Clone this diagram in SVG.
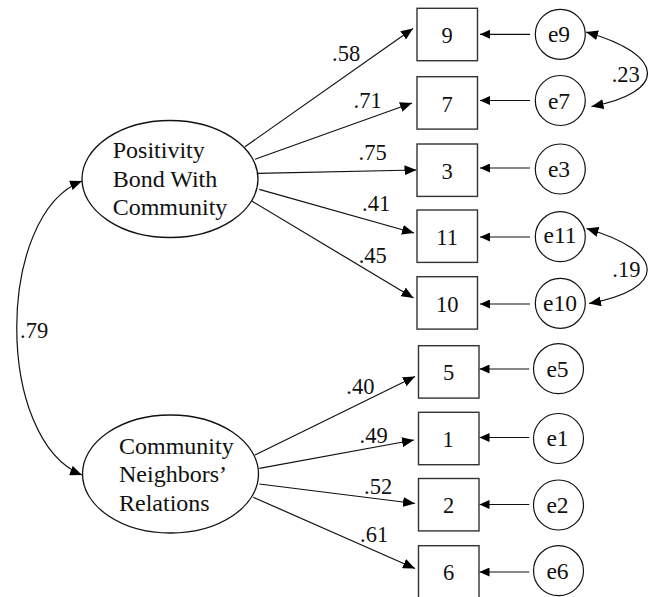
<svg xmlns="http://www.w3.org/2000/svg" width="651" height="597" viewBox="0 0 651 597">
<style>
  .box{fill:#fff;stroke:#333;stroke-width:1.4}
  .lat{fill:#fff;stroke:#111;stroke-width:1.3}
  .err{fill:#fff;stroke:#111;stroke-width:1.2}
  .t{font-family:"Liberation Serif","Times New Roman",serif;font-size:22.5px;fill:#111}
  .et{font-family:"Liberation Serif","Times New Roman",serif;font-size:23.5px;fill:#111}
  .lt{font-family:"Liberation Serif","Times New Roman",serif;font-size:24px;fill:#111}
  .mid{text-anchor:middle}
  .c{fill:none;stroke:#111;stroke-width:1.2}
</style>
<defs>
  <marker id="ah" markerUnits="userSpaceOnUse" markerWidth="12" markerHeight="10" refX="12" refY="5" orient="auto"><path d="M0,0 L12,5 L0,10 z" fill="#000"/></marker>
  <marker id="ahs" markerUnits="userSpaceOnUse" markerWidth="10" markerHeight="9" refX="10" refY="4.5" orient="auto"><path d="M0,0 L10,4.5 L0,9 z" fill="#000"/></marker>
  <marker id="ahc" markerUnits="userSpaceOnUse" markerWidth="12" markerHeight="10" refX="12" refY="5" orient="auto-start-reverse"><path d="M0,0 L12,5 L0,10 z" fill="#000"/></marker>
</defs>
<rect width="651" height="597" fill="#fff"/>

<g id="connectors">
  <path class="c" d="M82,181 C-5,215 -5,440 82,475" marker-start="url(#ahc)" marker-end="url(#ahc)"/>
  <path class="c" d="M586,32 C667,55 667,92 591.5,106.5" marker-start="url(#ahc)" marker-end="url(#ahc)"/>
  <path class="c" d="M586.5,228.5 C667,252 667,289 589,303.5" marker-start="url(#ahc)" marker-end="url(#ahc)"/>

  <line class="c" x1="245" y1="146.7" x2="413" y2="28.5" marker-end="url(#ah)"/>
  <line class="c" x1="255" y1="159.3" x2="412" y2="103" marker-end="url(#ah)"/>
  <line class="c" x1="257.7" y1="173.3" x2="416.5" y2="170" marker-end="url(#ah)"/>
  <line class="c" x1="259.3" y1="189.3" x2="414" y2="233" marker-end="url(#ah)"/>
  <line class="c" x1="251.7" y1="201" x2="413.5" y2="298" marker-end="url(#ah)"/>
  <line class="c" x1="255" y1="455" x2="415" y2="376.5" marker-end="url(#ah)"/>
  <line class="c" x1="259.3" y1="468.3" x2="414" y2="440" marker-end="url(#ah)"/>
  <line class="c" x1="259.3" y1="484" x2="415" y2="503.5" marker-end="url(#ah)"/>
  <line class="c" x1="253.3" y1="497.3" x2="415" y2="568.5" marker-end="url(#ah)"/>

  <line class="c" x1="530" y1="34.3" x2="480" y2="34.3" marker-end="url(#ahs)"/>
  <line class="c" x1="530" y1="100.5" x2="480" y2="100.5" marker-end="url(#ahs)"/>
  <line class="c" x1="530" y1="168" x2="480" y2="168" marker-end="url(#ahs)"/>
  <line class="c" x1="530" y1="237" x2="480" y2="237" marker-end="url(#ahs)"/>
  <line class="c" x1="530" y1="304" x2="480" y2="304" marker-end="url(#ahs)"/>
  <line class="c" x1="529.3" y1="369" x2="479.5" y2="369" marker-end="url(#ahs)"/>
  <line class="c" x1="529.3" y1="437.5" x2="479.5" y2="437.5" marker-end="url(#ahs)"/>
  <line class="c" x1="529.3" y1="504.5" x2="479.5" y2="504.5" marker-end="url(#ahs)"/>
  <line class="c" x1="529.3" y1="572" x2="479.5" y2="572" marker-end="url(#ahs)"/>

  <text class="t" x="20" y="338">.79</text>
  <text class="t" x="332" y="60.5">.58</text>
  <text class="t" x="353.5" y="108.3">.71</text>
  <text class="t" x="358.5" y="160">.75</text>
  <text class="t" x="362" y="210.7">.41</text>
  <text class="t" x="358.7" y="263.3">.45</text>
  <text class="t" x="346.3" y="393.7">.40</text>
  <text class="t" x="359.5" y="443.2">.49</text>
  <text class="t" x="364" y="494">.52</text>
  <text class="t" x="360" y="541.5">.61</text>
  <text class="t" x="611.7" y="81.7">.23</text>
  <text class="t" x="612.3" y="277.3">.19</text>
</g>

<g id="F1">
  <ellipse class="lat" cx="170" cy="179" rx="88" ry="58.5"/>
  <text class="lt" x="112.7" y="157.5">Positivity</text>
  <text class="lt" x="112.7" y="186.5">Bond With</text>
  <text class="lt" x="112.7" y="215">Community</text>
</g>
<g id="F2">
  <ellipse class="lat" cx="170.5" cy="474" rx="88" ry="59"/>
  <text class="lt" x="119" y="454">Community</text>
  <text class="lt" x="119" y="482">Neighbors’</text>
  <text class="lt" x="119" y="511">Relations</text>
</g>

<g id="v9"><rect class="box" x="417" y="8.3" width="60.5" height="52.4"/><text class="t mid" x="447.2" y="43">9</text></g>
<g id="v7"><rect class="box" x="417" y="76.7" width="60.5" height="52.4"/><text class="t mid" x="447.2" y="111.5">7</text></g>
<g id="v3"><rect class="box" x="417" y="144" width="60.5" height="52.4"/><text class="t mid" x="447.2" y="178.5">3</text></g>
<g id="v11"><rect class="box" x="417" y="210" width="60.5" height="52.4"/><text class="t mid" x="447.2" y="245">11</text></g>
<g id="v10"><rect class="box" x="417" y="276.7" width="60.5" height="52.4"/><text class="t mid" x="447.2" y="311.7">10</text></g>
<g id="v5"><rect class="box" x="418.5" y="345.7" width="60.5" height="52.4"/><text class="t mid" x="448.5" y="380.3">5</text></g>
<g id="v1"><rect class="box" x="418.5" y="412.3" width="60.5" height="52.4"/><text class="t mid" x="448" y="447">1</text></g>
<g id="v2"><rect class="box" x="418.5" y="478.5" width="60.5" height="52.4"/><text class="t mid" x="448.5" y="513">2</text></g>
<g id="v6"><rect class="box" x="418.5" y="545.7" width="60.5" height="52.4"/><text class="t mid" x="448.5" y="580">6</text></g>

<g id="e9"><circle class="err" cx="560.3" cy="34.3" r="25"/><text class="et mid" x="559" y="42">e9</text></g>
<g id="e7"><circle class="err" cx="560.3" cy="100.5" r="25"/><text class="et mid" x="559" y="108.5">e7</text></g>
<g id="e3"><circle class="err" cx="560.3" cy="169" r="25"/><text class="et mid" x="559" y="176.7">e3</text></g>
<g id="e11"><circle class="err" cx="560.3" cy="236.7" r="25"/><text class="et mid" x="560" y="243">e11</text></g>
<g id="e10"><circle class="err" cx="560.3" cy="303.3" r="25"/><text class="et mid" x="560" y="310.5">e10</text></g>
<g id="e5"><circle class="err" cx="558.5" cy="368.7" r="25"/><text class="et mid" x="557.5" y="376.5">e5</text></g>
<g id="e1"><circle class="err" cx="558.5" cy="438.5" r="25"/><text class="et mid" x="557.5" y="446">e1</text></g>
<g id="e2"><circle class="err" cx="558.5" cy="505" r="25"/><text class="et mid" x="557.5" y="512.5">e2</text></g>
<g id="e6"><circle class="err" cx="558.5" cy="570.7" r="25"/><text class="et mid" x="557.5" y="578.5">e6</text></g>
</svg>
